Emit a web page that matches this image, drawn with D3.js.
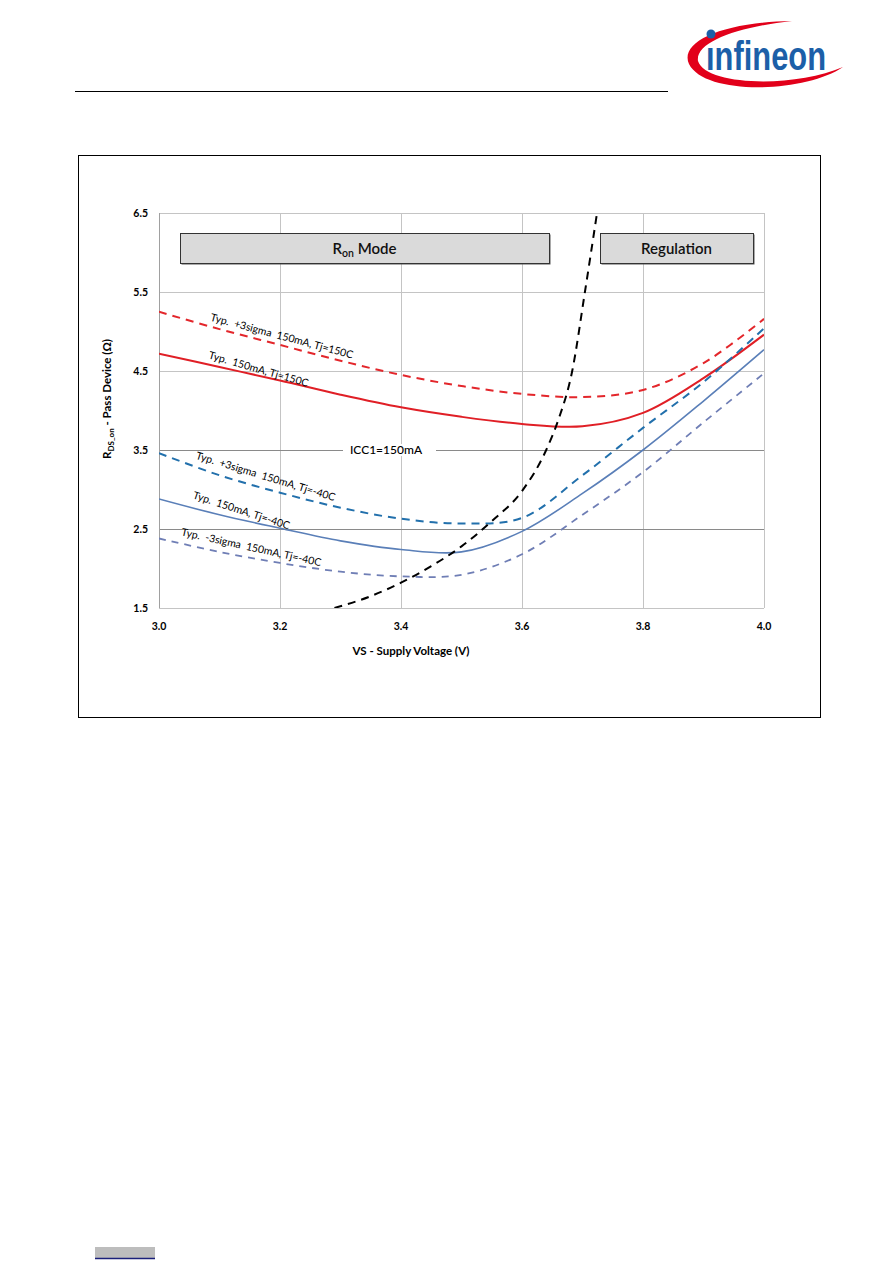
<!DOCTYPE html>
<html><head><meta charset="utf-8">
<script src="https://cdn.jsdelivr.net/npm/d3@7"></script>
<style>body{margin:0;background:#fff}svg{display:block}text{white-space:pre}</style>
</head><body>
<svg id="c" width="893" height="1263"></svg>
<script>
// ---- data ----
const xValues      = [3.0, 3.1, 3.2, 3.3, 3.4, 3.5, 3.6, 3.7, 3.8, 3.9, 4.0];
const hot3Sigma    = [5.25, 5.03, 4.83, 4.63, 4.45, 4.31, 4.21, 4.17, 4.26, 4.60, 5.16];
const hotTyp       = [4.72, 4.55, 4.38, 4.20, 4.04, 3.92, 3.83, 3.80, 3.97, 4.41, 4.96];
const coldPlus3    = [3.46, 3.18, 2.96, 2.77, 2.63, 2.57, 2.64, 3.18, 3.78, 4.36, 5.04];
const coldTyp      = [2.88, 2.68, 2.51, 2.35, 2.24, 2.21, 2.47, 2.95, 3.50, 4.12, 4.77];
const coldMinus3   = [2.38, 2.21, 2.07, 1.96, 1.90, 1.92, 2.18, 2.68, 3.22, 3.85, 4.47];
const boundaryX    = [3.29, 3.35, 3.40, 3.45, 3.50, 3.55, 3.60, 3.64, 3.66, 3.683, 3.704, 3.724];
const boundaryY    = [1.50, 1.65, 1.82, 2.03, 2.28, 2.60, 2.98, 3.50, 3.88, 4.50, 5.50, 6.50];
const xTicks       = [3.0, 3.2, 3.4, 3.6, 3.8, 4.0];
const yTicks       = [1.5, 2.5, 3.5, 4.5, 5.5, 6.5];
const seriesNames  = ["Typ.  +3sigma  150mA, Tj=150C", "Typ.  150mA, Tj=150C",
                      "Typ.  +3sigma  150mA, Tj=-40C", "Typ.  150mA, Tj=-40C",
                      "Typ.  -3sigma  150mA, Tj=-40C"];

// ---- layout ----
const svg = d3.select("#c");
const x = d3.scaleLinear().domain([3, 4]).range([159, 764]);
const y = d3.scaleLinear().domain([1.5, 6.5]).range([608, 213]);
const FONT = "Lato, 'Open Sans', sans-serif";

// header line
svg.append("line").attr("x1", 75).attr("x2", 668).attr("y1", 91.5).attr("y2", 91.5)
  .attr("stroke", "#000").attr("stroke-width", 1);

// logo
const logo = svg.append("g");
logo.append("path")
  .attr("d", "M843,67 C805,93 705,96 689,64 C679,42 722,22 792,21 C738,27 695,42 698,61 C706,86 795,88 843,67 Z")
  .attr("fill", "#e2001a");
logo.append("text").attr("x", 706).attr("y", 70).text("\u0131nfineon")
  .attr("font-family", "'Liberation Sans Narrow', 'Liberation Sans', sans-serif")
  .attr("font-weight", "bold").attr("font-size", 40).attr("fill", "#1c5fa8")
  .attr("textLength", 120).attr("lengthAdjust", "spacingAndGlyphs");
logo.append("circle").attr("cx", 711).attr("cy", 34).attr("r", 4.5).attr("fill", "#1c5fa8");

// outer frame
svg.append("rect").attr("x", 78.5).attr("y", 155.5).attr("width", 742).attr("height", 562)
  .attr("fill", "none").attr("stroke", "#000").attr("stroke-width", 1);

// grid
const grid = svg.append("g");
grid.selectAll("line.v").data(xTicks.filter(d => d > 3)).join("line")
  .attr("x1", d => x(d) + 0.5).attr("x2", d => x(d) + 0.5)
  .attr("y1", y(6.5)).attr("y2", y(1.5)).attr("stroke", "#c4c4c4");
grid.selectAll("line.h").data(yTicks).join("line")
  .attr("x1", x(3)).attr("x2", x(4))
  .attr("y1", d => y(d) + 0.5).attr("y2", d => y(d) + 0.5)
  .attr("stroke", d => (d === 2.5 || d === 3.5) ? "#8a8a8a" : "#c4c4c4");
grid.append("line").attr("x1", x(3) + 0.5).attr("x2", x(3) + 0.5)
  .attr("y1", y(6.5)).attr("y2", y(1.5)).attr("stroke", "#a0a0a0");

// ICC1 label on 3.5 line
svg.append("rect").attr("x", 343).attr("y", y(3.5) - 6).attr("width", 93).attr("height", 12).attr("fill", "#fff");
svg.append("text").attr("x", 386).attr("y", y(3.5)).attr("dy", "0.35em")
  .attr("text-anchor", "middle").attr("font-family", FONT).attr("font-size", 12)
  .attr("font-weight", 500).text("ICC1=150mA");

// tick labels
svg.append("g").selectAll("text").data(yTicks).join("text")
  .attr("x", 148).attr("y", d => y(d)).attr("dy", "0.35em").attr("text-anchor", "end")
  .attr("font-family", FONT).attr("font-weight", "bold").attr("font-size", 10.5)
  .text(d => d3.format(".1f")(d));
svg.append("g").selectAll("text").data(xTicks).join("text")
  .attr("x", d => x(d)).attr("y", 626).attr("dy", "0.35em").attr("text-anchor", "middle")
  .attr("font-family", FONT).attr("font-weight", "bold").attr("font-size", 10.5)
  .text(d => d3.format(".1f")(d));

// axis titles
svg.append("text").attr("x", 411).attr("y", 651).attr("dy", "0.35em").attr("text-anchor", "middle")
  .attr("font-family", FONT).attr("font-weight", "bold").attr("font-size", 11.5)
  .text("VS - Supply Voltage (V)");
const yt = svg.append("text").attr("transform", "translate(107,399) rotate(-90)")
  .attr("dy", "0.35em").attr("text-anchor", "middle")
  .attr("font-family", FONT).attr("font-weight", "bold").attr("font-size", 11.5);
yt.append("tspan").text("R");
yt.append("tspan").attr("font-size", 8).attr("dy", "3").text("DS_on");
yt.append("tspan").attr("dy", "-3").text(" - Pass Device (\u03A9)");

// mode boxes
function modeBox(x0, x1, label, sub, rest) {
  const g = svg.append("g");
  g.append("rect").attr("x", x0 + 1.5).attr("y", 234.5).attr("width", x1 - x0).attr("height", 30)
    .attr("fill", "#555");
  g.append("rect").attr("x", x0 + 0.5).attr("y", 233.5).attr("width", x1 - x0).attr("height", 30)
    .attr("fill", "#dadada").attr("stroke", "#333").attr("stroke-width", 1);
  const t = g.append("text").attr("x", (x0 + x1) / 2).attr("y", 249).attr("dy", "0.35em")
    .attr("text-anchor", "middle").attr("font-family", FONT).attr("font-size", 15)
    .attr("font-weight", 600).attr("fill", "#111");
  t.append("tspan").text(label);
  if (sub) {
    t.append("tspan").attr("font-size", 10.5).attr("dy", 3).text(sub);
    t.append("tspan").attr("dy", -3).text(rest);
  }
}
modeBox(180, 549, "R", "on", " Mode");
modeBox(600, 753, "Regulation");

// curves
svg.append("defs").append("clipPath").attr("id", "plot")
  .append("rect").attr("x", x(3)).attr("y", y(6.5)).attr("width", x(4) - x(3)).attr("height", y(1.5) - y(6.5));
const line = d3.line().x(d => x(d[0])).y(d => y(d[1])).curve(d3.curveCatmullRom.alpha(0.5));
const curves = [
  {vals: hot3Sigma,  color: "#e3262b", w: 2,   dash: "8,6"},
  {vals: hotTyp,     color: "#e01f26", w: 2,   dash: null},
  {vals: coldPlus3,  color: "#2270ac", w: 2,   dash: "8,6"},
  {vals: coldTyp,    color: "#5a7fb8", w: 1.6, dash: null},
  {vals: coldMinus3, color: "#6f7eb5", w: 1.8, dash: "7,6"}
];
const cg = svg.append("g").attr("clip-path", "url(#plot)");
curves.forEach(c => {
  cg.append("path").datum(xValues.map((v, i) => [v, c.vals[i]]))
    .attr("d", line).attr("fill", "none").attr("stroke", c.color)
    .attr("stroke-width", c.w).attr("stroke-dasharray", c.dash);
});
cg.append("path").datum(boundaryX.map((v, i) => [v, boundaryY[i]]))
  .attr("d", d3.line().x(d => x(d[0])).y(d => y(d[1])).curve(d3.curveMonotoneX))
  .attr("fill", "none").attr("stroke", "#000").attr("stroke-width", 2).attr("stroke-dasharray", "8,6");

// series labels
const labelPos = [[3.084, 5.14, 15], [3.081, 4.66, 16], [3.060, 3.39, 17], [3.055, 2.89, 18], [3.036, 2.42, 12.5]];
svg.append("g").selectAll("text").data(seriesNames).join("text")
  .attr("transform", (d, i) => `translate(${x(labelPos[i][0])},${y(labelPos[i][1])}) rotate(${labelPos[i][2]})`)
  .attr("font-family", FONT).attr("font-size", 10.5).attr("fill", "#000")
  .text(d => d);

// footer mark
svg.append("rect").attr("x", 95).attr("y", 1247).attr("width", 60).attr("height", 11).attr("fill", "#bdbdbd");
svg.append("line").attr("x1", 95).attr("x2", 155).attr("y1", 1258.5).attr("y2", 1258.5)
  .attr("stroke", "#1a1f7a").attr("stroke-width", 1.5);
</script>
</body></html>
